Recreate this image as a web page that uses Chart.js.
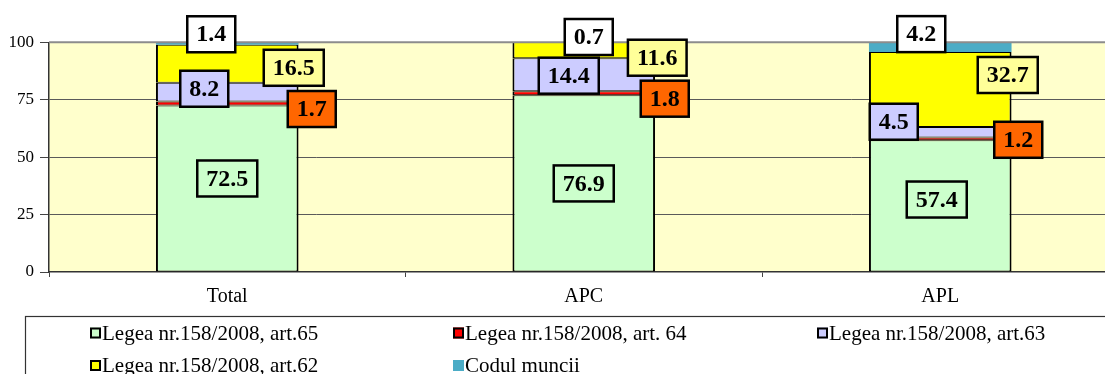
<!DOCTYPE html>
<html>
<head>
<meta charset="utf-8">
<script src="https://cdn.jsdelivr.net/npm/chart.js@4/dist/chart.umd.min.js"></script>
<style>
  html, body { margin: 0; padding: 0; background: #fff; overflow: hidden; }
  #wrap { width: 1105px; height: 374px; overflow: hidden; }
  canvas { display: block; }
</style>
</head>
<body>
<div id="wrap"><canvas id="c" width="1130" height="374"></canvas></div>
<script>
// Categories and series values (percent)
const categories = ['Total', 'APC', 'APL'];
const seriesNames = [
  'Legea nr.158/2008, art.65',
  'Legea nr.158/2008, art. 64',
  'Legea nr.158/2008, art.63',
  'Legea nr.158/2008, art.62',
  'Codul muncii'
];
const art65 = [72.5, 76.9, 57.4];
const art64 = [1.7, 1.8, 1.2];
const art63 = [8.2, 14.4, 4.5];
const art62 = [16.5, 11.6, 32.7];
const coduMuncii = [1.4, 0.7, 4.2];
const yTicks = [0, 25, 50, 75, 100];

// Appearance of each series: bar fill, label box fill, border
const seriesStyle = [
  { fill: '#CCFFCC', box: '#CCFFCC', border: '#000', outlined: true },
  { fill: '#FF0000', box: '#FF6600', border: '#000', outlined: true },
  { fill: '#CCCCFF', box: '#CCCCFF', border: '#000', outlined: true },
  { fill: '#FFFF00', box: '#FFFF99', border: '#000', outlined: true },
  { fill: '#4BACC6', box: '#FFFFFF', border: '#4BACC6', outlined: false }
];

// Label box placement relative to the segment centre, in px [dx, dy]
const labelShift = [
  [[0, -10], [0, 0], [-3.5, -6.3]],
  [[84.5, 5.5], [81, 5.4], [78, 1]],
  [[-23, -3.4], [-15, 1], [-46.5, -10.5]],
  [[66.5, 4], [73.5, 7.5], [67.5, -14.5]],
  [[-16, -9.3], [5, -5.3], [-19, -13]]
];

const seriesValues = [art65, art64, art63, art62, coduMuncii];
const SERIF = '"Liberation Serif", "Times New Roman", serif';

const datasets = seriesValues.map((vals, i) => ({
  label: seriesNames[i],
  data: vals,
  backgroundColor: seriesStyle[i].fill,
  borderColor: seriesStyle[i].border,
  // shared edges between stacked segments add up to about 2px
  borderWidth: seriesStyle[i].outlined ? { top: 1, bottom: 1, left: 2, right: 2 } : 0,
  borderSkipped: false,
  barPercentage: 0.4,
  categoryPercentage: 1.0,
  clip: 0
}));

// Plot area background and top frame line
const plotFrame = {
  id: 'plotFrame',
  beforeDraw(chart) {
    const { ctx, chartArea: a } = chart;
    ctx.save();
    ctx.fillStyle = '#FFFFCC';
    ctx.fillRect(a.left, a.top, a.right - a.left, a.bottom - a.top);
    ctx.restore();
  },
  afterDatasetsDraw(chart) {
    const { ctx, chartArea: a } = chart;
    ctx.save();
    ctx.strokeStyle = '#8c8c8c';
    ctx.lineWidth = 2;
    ctx.beginPath();
    ctx.moveTo(a.left, a.top);
    ctx.lineTo(a.right + 20, a.top);
    ctx.stroke();
    ctx.restore();
  }
};

// Boxed value labels
const valueBoxes = {
  id: 'valueBoxes',
  afterDatasetsDraw(chart) {
    const { ctx, chartArea: a } = chart;
    ctx.save();
    ctx.font = 'bold 24px ' + SERIF;
    ctx.textAlign = 'center';
    ctx.textBaseline = 'middle';
    chart.data.datasets.forEach((ds, di) => {
      const meta = chart.getDatasetMeta(di);
      meta.data.forEach((bar, j) => {
        const p = bar.getProps(['x', 'y', 'base'], true);
        const clampY = v => Math.min(Math.max(v, a.top), a.bottom);
        const cy = (clampY(p.y) + clampY(p.base)) / 2;
        const [dx, dy] = labelShift[di][j];
        const x = p.x + dx, y = cy + dy;
        const txt = ds.data[j].toFixed(1);
        const tw = ctx.measureText(txt).width;
        const w = tw + 18, h = 36;
        ctx.fillStyle = seriesStyle[di].box;
        ctx.fillRect(x - w / 2, y - h / 2, w, h);
        ctx.lineWidth = 2.5;
        ctx.strokeStyle = '#000';
        ctx.strokeRect(x - w / 2, y - h / 2, w, h);
        ctx.fillStyle = '#000';
        ctx.fillText(txt, x, y + 1);
      });
    });
    ctx.restore();
  }
};

// Legend in a framed box, three columns
const boxLegend = {
  id: 'boxLegend',
  afterDraw(chart) {
    const { ctx } = chart;
    ctx.save();
    ctx.fillStyle = '#fff';
    ctx.fillRect(25, 316.5, 1200, 100);
    ctx.strokeStyle = '#333';
    ctx.lineWidth = 1.2;
    ctx.strokeRect(25.5, 316.5, 1200, 100);
    const colX = [90, 453, 817];
    const rowY = [333, 365.5];
    ctx.font = '21px ' + SERIF;
    ctx.textBaseline = 'middle';
    ctx.textAlign = 'left';
    chart.data.datasets.forEach((ds, i) => {
      const x = colX[i % 3], y = rowY[Math.floor(i / 3)];
      const s = 11;
      ctx.fillStyle = seriesStyle[i].fill;
      ctx.fillRect(x, y - s / 2, s, s);
      if (seriesStyle[i].outlined) {
        ctx.lineWidth = 2;
        ctx.strokeStyle = '#000';
        ctx.strokeRect(x + 1, y - s / 2 + 1, s - 2, s - 2);
      }
      ctx.fillStyle = '#000';
      ctx.fillText(ds.label, x + 12, y + 1);
    });
    ctx.restore();
  }
};

new Chart(document.getElementById('c'), {
  type: 'bar',
  data: { labels: categories, datasets },
  plugins: [plotFrame, valueBoxes, boxLegend],
  options: {
    responsive: false,
    animation: false,
    layout: { padding: { top: 42.3, right: 11.5, bottom: 0, left: 0 } },
    plugins: { legend: { display: false }, tooltip: { enabled: false } },
    scales: {
      x: {
        stacked: true,
        afterFit(scale) { scale.height = 102; },
        grid: { display: true, drawOnChartArea: false, tickLength: 5, color: '#444', offset: true },
        border: { display: true, color: '#333', width: 1.5 },
        ticks: { color: '#000', padding: 8, font: { family: SERIF, size: 20 } }
      },
      y: {
        stacked: true,
        min: 0,
        max: 100,
        afterFit(scale) { scale.width = 49; },
        afterBuildTicks(scale) { scale.ticks = yTicks.map(v => ({ value: v })); },
        grid: {
          tickLength: 9,
          color: c => (c.tick && (c.tick.value === 0 || c.tick.value === 100)) ? 'rgba(0,0,0,0)' : '#5a5a5a',
          tickColor: '#444',
          lineWidth: 1
        },
        border: { display: true, color: '#333', width: 1.5 },
        ticks: { color: '#000', padding: 6, font: { family: SERIF, size: 17 } }
      }
    }
  }
});
</script>
</body>
</html>
